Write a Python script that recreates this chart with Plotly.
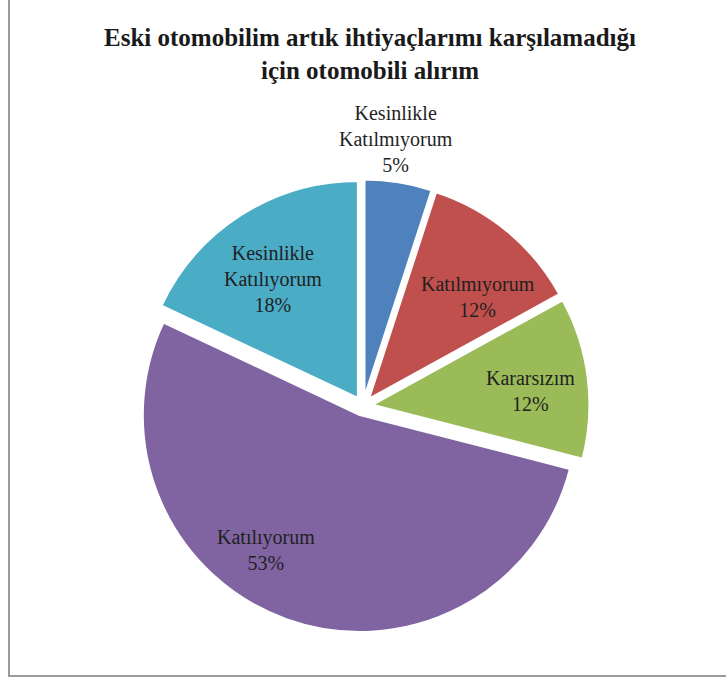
import math
import plotly.graph_objects as go

labels = ["Kesinlikle<br>Katılmıyorum", "Katılmıyorum", "Kararsızım", "Katılıyorum", "Kesinlikle<br>Katılıyorum"]
values = [5, 12, 12, 53, 18]
colors = ["#4F81BD", "#C0504D", "#9BBB59", "#8064A2", "#4BACC6"]
title_text = "Eski otomobilim artık ihtiyaçlarımı karşılamadığı<br>için otomobili alırım"

# label placement style (fraction of radius, angular shift in degrees)
label_radius = [1.24, 0.73, 0.775, 0.80, 0.72]
label_shift = [-2, 7, 2, 14, -3]

W, H = 726, 681
cx, cy, half = 363, 406, 226.5
pull = 0.044
r = half / (1 + pull)

fig = go.Figure(go.Pie(
    labels=labels,
    values=values,
    sort=False,
    direction="clockwise",
    rotation=0,
    pull=[pull] * len(values),
    marker=dict(colors=colors, line=dict(color="white", width=2)),
    textinfo="none",
    showlegend=False,
    hoverinfo="label+percent",
    domain=dict(x=[(cx - half) / W, (cx + half) / W],
                y=[1 - (cy + half) / H, 1 - (cy - half) / H]),
))

total = sum(values)
annotations = []
cum = 0
for lab, v, rf, sh in zip(labels, values, label_radius, label_shift):
    mid = (cum + v / 2) / total * 360 + sh
    cum += v
    th = math.radians(mid)
    px = cx + rf * r * math.sin(th)
    py = cy - rf * r * math.cos(th)
    annotations.append(dict(
        x=px / W, y=1 - py / H, xref="paper", yref="paper",
        text=f"{lab}<br>{round(v / total * 100)}%", showarrow=False,
        xanchor="center", yanchor="middle", align="center",
        font=dict(family="Liberation Serif", size=20, color="#1f1f1f"),
    ))

fig.update_layout(
    width=W, height=H,
    margin=dict(l=0, r=0, t=0, b=0),
    paper_bgcolor="white",
    plot_bgcolor="white",
    title=dict(text="<b>" + title_text + "</b>", x=370 / W, xanchor="center",
               y=1 - 46 / H, yanchor="top",
               font=dict(family="Liberation Serif", size=25, color="#1a1a1a")),
    annotations=annotations,
    shapes=[dict(type="rect", xref="paper", yref="paper",
                 x0=9 / W, x1=1.02, y0=1 - 676 / H, y1=1.02,
                 line=dict(color="#9a9a9a", width=2), layer="below")],
)

fig.write_html("out.html")
